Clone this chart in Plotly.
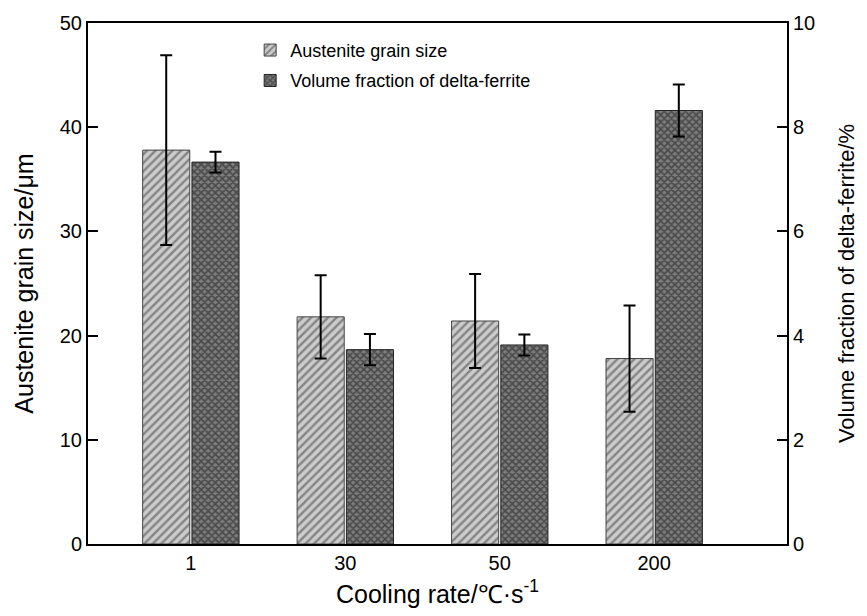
import plotly.graph_objects as go

categories = ["1", "30", "50", "200"]
grain_size = [37.8, 21.8, 21.4, 17.8]
grain_err = [9.1, 4.0, 4.5, 5.1]
delta_ferrite = [7.33, 3.73, 3.82, 8.32]
delta_err = [0.2, 0.3, 0.2, 0.5]

xpos = list(range(len(categories)))
FONT = "Liberation Sans, Arial, sans-serif"

fig = go.Figure()
fig.add_trace(go.Bar(
    x=xpos, y=grain_size, name="Austenite grain size",
    width=0.305, offset=-0.312,
    marker=dict(color="#c8c8c8", line=dict(color="#444444", width=1),
                pattern=dict(shape="/", fgcolor="#3c3c3c", bgcolor="#cccccc", size=6, solidity=0.4)),
    error_y=dict(type="data", array=grain_err, color="black", thickness=2, width=6),
    legendgroup="a", yaxis="y",
))
fig.add_trace(go.Bar(
    x=xpos, y=delta_ferrite, name="Volume fraction of delta-ferrite",
    width=0.305, offset=0.007,
    marker=dict(color="#444444", line=dict(color="#222222", width=1),
                pattern=dict(shape="x", fgcolor="#1a1a1a", bgcolor="#7e7e7e", size=5, solidity=0.6)),
    error_y=dict(type="data", array=delta_err, color="black", thickness=2, width=6),
    legendgroup="b", yaxis="y2",
))

axis_common = dict(showline=True, linecolor="black", linewidth=2, ticks="inside",
                   ticklen=10, tickwidth=2, tickcolor="black", showgrid=False,
                   zeroline=False, tickfont=dict(family=FONT, size=20, color="black"))

fig.update_layout(
    width=867, height=616,
    margin=dict(l=88, r=69, t=23, b=72),
    paper_bgcolor="white", plot_bgcolor="white",
    barmode="overlay",
    showlegend=True,
    legend=dict(x=0.232, y=0.983, xanchor="left", yanchor="top",
                bgcolor="rgba(0,0,0,0)", font=dict(family=FONT, size=18, color="black"),
                traceorder="grouped", tracegroupgap=4),
    xaxis=dict(range=[-0.666, 3.86], tickvals=xpos, ticktext=categories,
               mirror=True, ticks="", showline=True, linecolor="black", linewidth=2,
               showgrid=False, zeroline=False,
               tickfont=dict(family=FONT, size=20, color="black"),
               title=dict(text="Cooling rate/℃·s<sup>-1</sup>", standoff=12,
                          font=dict(family=FONT, size=25, color="black"))),
    yaxis=dict(range=[0, 50], tickvals=[0, 10, 20, 30, 40, 50], **axis_common,
               title=dict(text="Austenite grain size/μm", standoff=19,
                          font=dict(family=FONT, size=25, color="black"))),
    yaxis2=dict(range=[0, 10], tickvals=[0, 2, 4, 6, 8, 10], overlaying="y", side="right",
                **axis_common,
                title=dict(text="Volume fraction of delta-ferrite/%", standoff=24,
                           font=dict(family=FONT, size=22, color="black"))),
)

fig.write_html("out.html")
